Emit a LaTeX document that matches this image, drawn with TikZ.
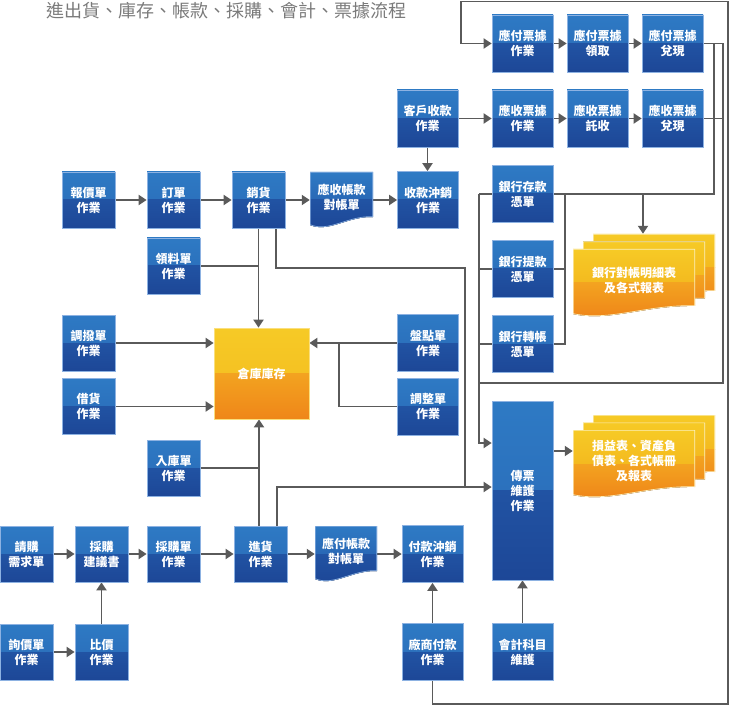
\documentclass[tikz,border=0pt]{standalone}
\usepackage{fontspec}
\setmainfont{Noto Sans CJK TC}
\usetikzlibrary{arrows.meta,calc}
\definecolor{bluA}{HTML}{2E7AC4}
\definecolor{bluB}{HTML}{2968B6}
\definecolor{bluC}{HTML}{2153A3}
\definecolor{bluD}{HTML}{1D4797}
\definecolor{edge}{HTML}{8DB2E2}
\definecolor{yelA}{HTML}{F6CA26}
\definecolor{yelB}{HTML}{F4BA1F}
\definecolor{orgC}{HTML}{F3A320}
\definecolor{orgD}{HTML}{EF8619}
\definecolor{lineGray}{HTML}{5A5A5A}
\definecolor{ttl}{HTML}{7A7A7A}
\pgfdeclarelayer{bg}
\pgfsetlayers{bg,main}
\newcommand\boxfont{\fontsize{12}{15}\selectfont\bfseries}
\tikzset{
  halves/.style n args={4}{path picture={
    \fill[top color=#1,bottom color=#2] (path picture bounding box.north west) rectangle (path picture bounding box.east);
    \fill[top color=#3,bottom color=#4] (path picture bounding box.west) rectangle (path picture bounding box.south east);}},
  docbody/.style n args={5}{path picture={
    \coordinate (dnw) at (path picture bounding box.north west);
    \coordinate (dne) at (path picture bounding box.north east);
    \coordinate (dsw) at (path picture bounding box.south west);
    \coordinate (dse) at (path picture bounding box.south east);
    \clip (dnw) -- (dne) -- ($(dse)+(0pt,11pt)$)
      .. controls ($(dsw)!.6!(dse)+(0pt,12pt)$) and ($(dsw)!.3!(dse)+(0pt,-5pt)$) .. ($(dsw)+(0pt,3pt)$) -- cycle;
    \fill[top color=#1,bottom color=#2] (dnw) rectangle ($(dne)!.5!(dse)$);
    \fill[top color=#3,bottom color=#4] ($(dnw)!.5!(dsw)$) rectangle (dse);
    \draw[#5,line width=1.4pt] (dnw) -- (dne) -- ($(dse)+(0pt,11pt)$)
      .. controls ($(dsw)!.6!(dse)+(0pt,12pt)$) and ($(dsw)!.3!(dse)+(0pt,-5pt)$) .. ($(dsw)+(0pt,3pt)$) -- cycle;}}
}

\begin{document}
\begin{tikzpicture}[x=1pt,y=-1pt]
  \tikzstyle{wire}=[draw=lineGray,line width=1.9pt]
  \tikzstyle{arr}=[wire,-{Triangle[length=8pt,width=10pt]}]
  \tikzstyle{blk}=[rectangle,draw=edge,line width=.6pt,inner sep=0pt,minimum width=61pt,minimum height=57pt,align=center,text=white,font=\boxfont,halves={bluA}{bluB}{bluC}{bluD}]
  \tikzstyle{nblk}=[blk,minimum width=53pt,minimum height=56pt]
  \tikzstyle{doc}=[rectangle,inner sep=0pt,align=center,text=white,font=\boxfont,text depth=7pt,docbody={bluA}{bluB}{bluC}{bluD}{edge}]
  \tikzstyle{rpt}=[doc,minimum width=122pt,minimum height=68pt,docbody={yelA}{yelB}{orgC}{orgD}{yelA!30!white}]
  \useasboundingbox (0,0) rectangle (732,706);

  \node[anchor=west,text=ttl,font=\fontsize{18}{20}\selectfont] (title) at (43,11) {進出貨、庫存、帳款、採購、會計、票據流程};

  \node[blk] (payNote) at (522.5,43.5) {應付票據\\作業};
  \node[blk] (payTake) at (597.5,43.5) {應付票據\\領取};
  \node[blk] (payCash) at (672.5,43.5) {應付票據\\兌現};
  \node[blk] (custRecv) at (427.5,118.5) {客戶收款\\作業};
  \node[blk] (recNote) at (522.5,118.5) {應收票據\\作業};
  \node[blk] (recColl) at (597.5,118.5) {應收票據\\託收};
  \node[blk] (recCash) at (672.5,118.5) {應收票據\\兌現};

  \node[nblk] (quote) at (88.5,200) {報價單\\作業};
  \node[nblk] (order) at (173.5,200) {訂單\\作業};
  \node[nblk] (sales) at (258.5,200) {銷貨\\作業};
  \node[doc,minimum width=63pt,minimum height=56pt] (arStmt) at (341.5,200) {應收帳款\\對帳單};
  \node[blk] (recvOff) at (428,200) {收款沖銷\\作業};
  \node[blk] (bankDep) at (522.5,194) {銀行存款\\憑單};
  \node[blk] (bankWd) at (522.5,269) {銀行提款\\憑單};
  \node[blk] (bankTr) at (522.5,344) {銀行轉帳\\憑單};
  \node[rpt] (bankRptC) at (654,268) {};
  \node[rpt] (bankRptB) at (644,275.5) {};
  \node[rpt] (bankRpt) at (634,283) {銀行對帳明細表\\及各式報表};

  \node[nblk] (picking) at (173.5,266) {領料單\\作業};
  \node[nblk] (transfer) at (88.5,343) {調撥單\\作業};
  \node[blk] (count) at (428,343) {盤點單\\作業};
  \node[blk,minimum width=95pt,minimum height=91pt,draw=yelA!60!white,halves={yelA}{yelB}{orgC}{orgD}] (stock) at (261.5,373.5) {倉庫庫存};
  \node[nblk] (loan) at (88.5,406.5) {借貨\\作業};
  \node[blk] (adjust) at (428,406.5) {調整單\\作業};
  \node[nblk] (inbound) at (173.5,468) {入庫單\\作業};
  \node[blk,minimum height=179pt] (voucher) at (522.5,490.5) {傳票\\維護\\作業};
  \node[rpt] (finRptC) at (654,449) {};
  \node[rpt] (finRptB) at (644,456.5) {};
  \node[rpt] (finRpt) at (634,464) {損益表、資產負\\債表、各式帳冊\\及報表};

  \node[nblk] (reqBuy) at (26.5,554) {請購\\需求單};
  \node[nblk] (buySug) at (101.5,554) {採購\\建議書};
  \node[nblk] (poBuy) at (173.5,554) {採購單\\作業};
  \node[nblk] (purch) at (260.5,554) {進貨\\作業};
  \node[doc,minimum width=62pt,minimum height=56pt] (apStmt) at (346,554) {應付帳款\\對帳單};
  \node[blk] (payOff) at (432.5,554) {付款沖銷\\作業};
  \node[nblk] (inquiry) at (26.5,652) {詢價單\\作業};
  \node[nblk] (compare) at (101.5,652) {比價\\作業};
  \node[blk] (vendPay) at (432.5,652) {廠商付款\\作業};
  \node[blk] (acctItem) at (522.5,652) {會計科目\\維護};

  \begin{pgfonlayer}{bg}
    \coordinate (outB) at (728,704);
    \coordinate (outT) at (461,1.5);
    \coordinate (busL) at (479,194);
    \coordinate (busR) at (565,194);
    \coordinate (drop) at (714,43.5);
    \coordinate (loopR) at (723,43.5);
    \coordinate (loopB) at (723,383);
    \coordinate (rptTop) at (643,194);
    \coordinate (saleR) at (465,268);
    \coordinate (vchIn) at ([yshift=3.5pt]voucher.west);
    \coordinate (vchTop) at ([yshift=47.5pt]voucher.west);
    \coordinate (finArr) at ([yshift=13pt]finRpt.west);

    \draw[arr] (payNote) -- (payTake);
    \draw[arr] (payTake) -- (payCash);
    \draw[arr] (custRecv) -- (recNote);
    \draw[arr] (recNote) -- (recColl);
    \draw[arr] (recColl) -- (recCash);
    \draw[arr] (custRecv) -- (custRecv |- recvOff.north);
    \draw[arr] (quote) -- (order);
    \draw[arr] (order) -- (sales);
    \draw[arr] (sales) -- (arStmt);
    \draw[arr] (arStmt) -- (recvOff);

    \draw[wire] (payCash) -- (loopR) -- (loopB) -- (loopB -| busL);
    \draw[wire] (recCash) -- (recCash -| loopR);
    \draw[wire] (drop) |- (busL);
    \draw[arr] (busL) |- (vchTop);
    \draw[arr] (rptTop) -- (rptTop |- bankRptC.north);
    \draw[wire] (bankWd) -| (busR);
    \draw[wire] (bankTr) -| (busR);
    \draw[wire] (bankWd) -- (bankWd -| busL);
    \draw[wire] (bankTr) -- (bankTr -| busL);

    \draw[arr] (sales.south) -- (sales.south |- stock.north);
    \draw[wire] (picking) -- (picking -| sales);
    \draw[wire] ([xshift=17.5pt]sales.south) |- (saleR) -- (saleR |- vchIn);
    \draw[arr] ([xshift=-1.5pt]purch.north) -- ([xshift=-1.5pt]purch.north |- stock.south);
    \draw[wire] (inbound) -- (inbound -| sales);
    \draw[arr] ([xshift=16.5pt]purch.north) |- (vchIn);
    \draw[arr] (transfer) -- (transfer -| stock.west);
    \draw[arr] (loan) -- (loan -| stock.west);
    \draw[arr] (count) -- (count -| stock.east);
    \draw[wire] (adjust) -| ([xshift=30pt]stock.east |- count);

    \draw[arr] (reqBuy) -- (buySug);
    \draw[arr] (buySug) -- (poBuy);
    \draw[arr] (poBuy) -- (purch);
    \draw[arr] (purch) -- (apStmt);
    \draw[arr] (apStmt) -- (payOff);
    \draw[arr] (inquiry) -- (compare);
    \draw[arr] (compare) -- (buySug);
    \draw[arr] (vendPay) -- (payOff);
    \draw[arr] (acctItem) -- (voucher);
    \draw[arr] (voucher.east |- finArr) -- (finArr);
    \draw[arr] (vendPay) |- (outB) |- (outT) |- (payNote);
  \end{pgfonlayer}
\end{tikzpicture}
\end{document}
